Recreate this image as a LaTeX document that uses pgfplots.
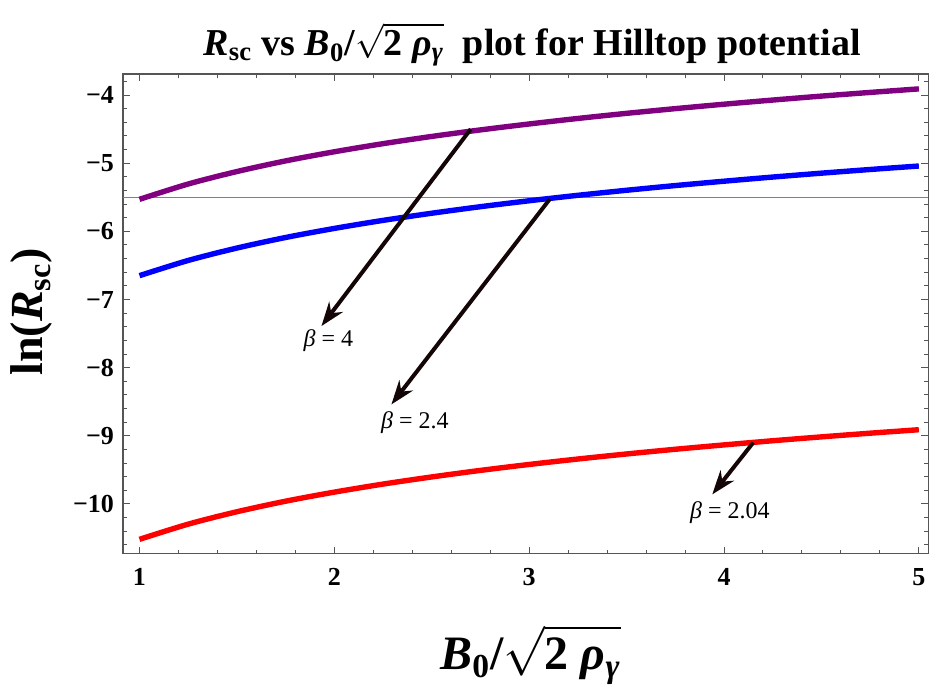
\documentclass[border=0pt]{standalone}
\usepackage{amsmath}
\usepackage{fontspec}
\setmainfont{Liberation Serif}
\usepackage{pgfplots}
\pgfplotsset{compat=1.18}
\usetikzlibrary{arrows.meta}
\definecolor{cpurple}{rgb}{0.5,0,0.5}
\definecolor{arrowc}{HTML}{140606}
\definecolor{framec}{HTML}{555555}
\newcommand{\rootrho}{$\sqrt{\smash[b]{\text{2 \textit{ρ}\textsubscript{\textit{γ}}}}}$}

\begin{document}
\begin{tikzpicture}
\begin{axis}[
  scale only axis,
  width=403pt,height=240pt,
  xmin=0.915,xmax=5.049,ymin=-10.73,ymax=-3.69,
  xtick={1,2,3,4,5},
  xticklabels={\textbf{1},\textbf{2},\textbf{3},\textbf{4},\textbf{5}},
  minor xtick={1.2,1.4,...,5.01},
  ytick={-10,-9,...,-4},
  yticklabels={\textbf{−10},\textbf{−9},\textbf{−8},\textbf{−7},\textbf{−6},\textbf{−5},\textbf{−4}},
  minor ytick={-10.6,-10.4,...,-3.7},
  tick align=inside,
  major tick length=3.5pt,minor tick length=2pt,
  xtick style={framec,line width=0.5pt},
  ytick style={framec,line width=0.5pt},
  axis line style={framec,line width=0.7pt},
  tick label style={font=\fontsize{13}{15}\selectfont},
  xticklabel style={yshift=-4pt},
  yticklabel style={xshift=-1pt},
  clip=false,
  ylabel={\textbf{ln(\textit{R}\textsubscript{sc})}},
  ylabel style={font=\fontsize{23}{26}\selectfont,at={(rel axis cs:-0.113,0.504)},anchor=center,rotate=0},
]
% reference line
\addplot[gray,line width=0.6pt] coordinates {(0.915,-5.5) (5.049,-5.5)};
% beta = 4
\addplot[cpurple,line width=2.7pt,smooth] coordinates {
  (1,-5.530) (1.25,-5.305) (1.5,-5.122) (1.75,-4.966) (2,-4.832) (2.25,-4.713)
  (2.5,-4.607) (2.75,-4.511) (3,-4.424) (3.25,-4.343) (3.5,-4.268) (3.75,-4.199)
  (4,-4.134) (4.25,-4.073) (4.5,-4.015) (4.75,-3.961) (5,-3.909)};
% beta = 2.4
\addplot[blue,line width=2.7pt,smooth] coordinates {
  (1,-6.650) (1.25,-6.427) (1.5,-6.245) (1.75,-6.090) (2,-5.957) (2.25,-5.839)
  (2.5,-5.734) (2.75,-5.638) (3,-5.551) (3.25,-5.471) (3.5,-5.397) (3.75,-5.328)
  (4,-5.264) (4.25,-5.203) (4.5,-5.146) (4.75,-5.092) (5,-5.041)};
% beta = 2.04
\addplot[red,line width=2.7pt,smooth] coordinates {
  (1,-10.520) (1.25,-10.297) (1.5,-10.115) (1.75,-9.960) (2,-9.827) (2.25,-9.709)
  (2.5,-9.604) (2.75,-9.508) (3,-9.421) (3.25,-9.341) (3.5,-9.267) (3.75,-9.198)
  (4,-9.134) (4.25,-9.073) (4.5,-9.016) (4.75,-8.962) (5,-8.911)};
% annotations
\draw[arrowc,line width=2pt,-{Stealth[length=12pt,width=8.5pt]}] (axis cs:2.70,-4.50) -- (axis cs:1.934,-7.39);
\draw[arrowc,line width=2pt,-{Stealth[length=12pt,width=8.5pt]}] (axis cs:3.105,-5.53) -- (axis cs:2.293,-8.54);
\draw[arrowc,line width=2pt,-{Stealth[length=12pt,width=8.5pt]}] (axis cs:4.15,-9.10) -- (axis cs:3.94,-9.86);
\node[font=\fontsize{12}{14}\selectfont] at (axis cs:1.97,-7.61) {\textit{β} = 4};
\node[font=\fontsize{12}{14}\selectfont] at (axis cs:2.413,-8.81) {\textit{β} = 2.4};
\node[font=\fontsize{12}{14}\selectfont] at (axis cs:4.03,-10.13) {\textit{β} = 2.04};
% title and x label
\node[anchor=base,inner sep=0pt,font=\fontsize{19}{22}\selectfont]
  at (rel axis cs:0.508,1.038)
  {\textbf{\textit{R}\textsubscript{sc} vs \textit{B}\textsubscript{0}/\rootrho\ \ plot for Hilltop potential}};
\node[anchor=base,inner sep=0pt,font=\fontsize{24}{28}\selectfont]
  at (rel axis cs:0.506,-0.2417) {\textbf{\textit{B}\textsubscript{0}/\rootrho}};
\path (rel axis cs:-0.1526,-0.2833) rectangle (rel axis cs:1.0037,1.1542);
\end{axis}
\end{tikzpicture}
\end{document}
